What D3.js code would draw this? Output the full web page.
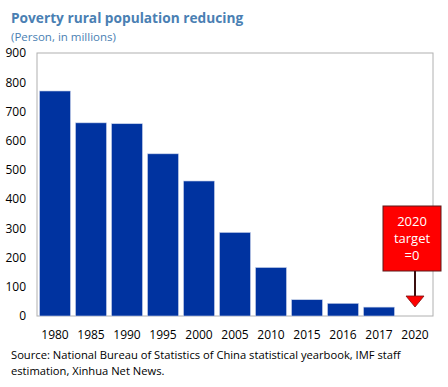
<!DOCTYPE html>
<html>
<head>
<meta charset="utf-8">
<script src="https://cdn.jsdelivr.net/npm/d3@7"></script>
<style>
  body { margin: 0; background: #fff; }
  text { font-family: "Open Sans", "Noto Sans", sans-serif; }
</style>
</head>
<body>
<svg id="chart" width="448" height="387"></svg>
<script>
const years = ["1980", "1985", "1990", "1995", "2000", "2005", "2010", "2015", "2016", "2017", "2020"];
const poorMillions = [770, 661, 658, 555, 462, 286, 166, 55.75, 43.35, 30.46, null];
const yTicks = [0, 100, 200, 300, 400, 500, 600, 700, 800, 900];
const targetLabel = ["2020", "target", "=0"];

const svg = d3.select("#chart");
const plotLeft = 37, plotRight = 433, plotTop = 53, plotBottom = 316;

const x = d3.scaleBand().domain(years).range([plotLeft, plotRight]).paddingInner(0.14).paddingOuter(0.07);
const y = d3.scaleLinear().domain([0, 900]).range([plotBottom, plotTop]);

// title
svg.append("text")
  .attr("x", 11).attr("y", 23)
  .attr("font-size", 13.7).attr("font-weight", "bold")
  .attr("fill", "#4a7fb3")
  .text("Poverty rural population reducing");
svg.append("text")
  .attr("x", 11).attr("y", 41)
  .attr("font-size", 11.5)
  .attr("fill", "#4a7fb3")
  .text("(Person, in millions)");

// plot frame
svg.append("rect")
  .attr("x", plotLeft).attr("y", plotTop)
  .attr("width", plotRight - plotLeft).attr("height", plotBottom - plotTop)
  .attr("fill", "none").attr("stroke", "#b0b0b0").attr("stroke-width", 1);

// y axis
const yAxis = svg.append("g")
  .attr("transform", `translate(${plotLeft},0)`)
  .call(d3.axisLeft(y).tickValues(yTicks).tickSize(0).tickPadding(11));
yAxis.select(".domain").remove();
yAxis.selectAll("text").attr("font-size", 12).attr("fill", "#000")
  .style("font-family", "'Open Sans', 'Noto Sans', sans-serif");

// x axis
const xAxis = svg.append("g")
  .attr("transform", `translate(0,${plotBottom})`)
  .call(d3.axisBottom(x).tickSize(0).tickPadding(14));
xAxis.select(".domain").remove();
xAxis.selectAll("text").attr("font-size", 12).attr("fill", "#000")
  .style("font-family", "'Open Sans', 'Noto Sans', sans-serif");

// bars
svg.selectAll(".bar")
  .data(years.map((d, i) => ({ year: d, v: poorMillions[i] })).filter(d => d.v != null))
  .enter()
  .append("rect")
  .attr("class", "bar")
  .attr("x", d => x(d.year))
  .attr("y", d => y(d.v))
  .attr("width", x.bandwidth())
  .attr("height", d => plotBottom - y(d.v))
  .attr("fill", "#0033a0")
  .attr("stroke", "#c8d3ea").attr("stroke-width", 0.6);

// target callout
const cx = x("2020") + x.bandwidth() / 2;
svg.append("rect")
  .attr("x", 383).attr("y", 206)
  .attr("width", 58).attr("height", 65)
  .attr("fill", "#ff0000").attr("stroke", "#5a1a1a").attr("stroke-width", 1);
svg.append("text")
  .attr("text-anchor", "middle")
  .attr("font-size", 13)
  .attr("fill", "#fff")
  .selectAll("tspan")
  .data(targetLabel)
  .enter()
  .append("tspan")
  .attr("x", 412)
  .attr("y", (d, i) => 226 + i * 17)
  .text(d => d);
svg.append("line")
  .attr("x1", cx).attr("x2", cx)
  .attr("y1", 271).attr("y2", 297)
  .attr("stroke", "#3a0f0f").attr("stroke-width", 2);
svg.append("path")
  .attr("d", `M${cx - 9},296 L${cx + 9},296 L${cx},307 Z`)
  .attr("fill", "#ff0000").attr("stroke", "#7a1010").attr("stroke-width", 0.8);

// source
svg.append("text")
  .attr("x", 11).attr("y", 359)
  .attr("font-size", 11.2).attr("fill", "#000")
  .text("Source: National Bureau of Statistics of China statistical yearbook, IMF staff");
svg.append("text")
  .attr("x", 11).attr("y", 375)
  .attr("font-size", 11.2).attr("fill", "#000")
  .text("estimation, Xinhua Net News.");
</script>
</body>
</html>
